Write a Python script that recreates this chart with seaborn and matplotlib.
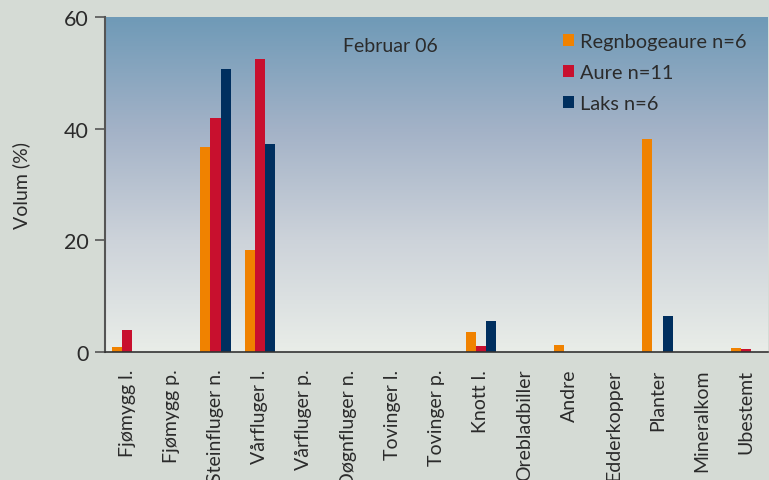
import numpy as np
import pandas as pd
import seaborn as sns
import matplotlib.pyplot as plt
from matplotlib.patches import Patch
from matplotlib.colors import LinearSegmentedColormap

# Data
categories = ['Fjømygg l.', 'Fjømygg p.', 'Steinfluger n.', 'Vårfluger l.', 'Vårfluger p.',
              'Døgnfluger n.', 'Tovinger l.', 'Tovinger p.', 'Knott l.', 'Orebladbiller',
              'Andre', 'Edderkopper', 'Planter', 'Mineralkom', 'Ubestemt']
regnbogeaure = [0.9, 0, 36.8, 18.3, 0, 0, 0, 0, 3.6, 0, 1.3, 0, 38.2, 0, 0.7]
aure = [3.9, 0, 41.9, 52.5, 0, 0, 0, 0, 1.1, 0, 0, 0, 0, 0, 0.5]
laks = [0, 0, 50.7, 37.3, 0, 0, 0, 0, 5.6, 0, 0, 0, 6.5, 0, 0]
series_names = ['Regnbogeaure n=6', 'Aure n=11', 'Laks n=6']
colors = ['#F08200', '#C8102E', '#002F5F']

df = pd.DataFrame({
    'Kategori': categories * 3,
    'Volum': regnbogeaure + aure + laks,
    'Art': [s for s in series_names for _ in categories],
})

sns.set_style('white')
plt.rcParams['font.family'] = ['Lato', 'DejaVu Sans']
text_color = '#2b2b2b'

fig = plt.figure(figsize=(7.69, 4.81), dpi=100, facecolor='#D5DBD5')
ax = fig.add_axes([105 / 769, 1 - 353 / 481, 663 / 769, 335 / 481])

# gradient background in the plot area
grad = np.linspace(0, 1, 256).reshape(-1, 1)
cmap = LinearSegmentedColormap.from_list('bg', ['#E9EDE8', '#CDD3DA', '#A3B2C7', '#6F9AB7'])
ax.imshow(grad, extent=(-0.5, 14.5, 0, 60), origin='lower', aspect='auto',
          cmap=cmap, zorder=0)

sns.barplot(data=df, x='Kategori', y='Volum', hue='Art', hue_order=series_names,
            order=categories, palette=colors, width=0.68, gap=0, saturation=1,
            edgecolor='none', linewidth=0, legend=False, ax=ax, zorder=2)

ax.set_xlim(-0.5, 14.5)
ax.set_ylim(0, 60)
ax.set_yticks([0, 20, 40, 60])
ax.set_xlabel('')
ax.set_ylabel('Volum (%)', fontsize=14, color=text_color, labelpad=24)

ax.set_xticks(range(len(categories)))
ax.set_xticklabels(categories, rotation=90, fontsize=14, color=text_color)
ax.set_xticks(np.arange(-0.5, 15, 1), minor=True)
ax.tick_params(axis='x', which='major', length=0, pad=12)
ax.tick_params(axis='x', which='minor', length=7, width=1.2, color='#333333', direction='out')
ax.tick_params(axis='y', length=7, width=1.2, color='#555555', labelsize=15.5,
               labelcolor=text_color, pad=5, left=True)

for side in ['top', 'right']:
    ax.spines[side].set_visible(False)
ax.spines['left'].set_color('#555555')
ax.spines['left'].set_linewidth(1.5)
ax.spines['bottom'].set_color('#333333')
ax.spines['bottom'].set_linewidth(1.2)

ax.text((390 - 105) / 663, (353 - 47) / 335, 'Februar 06', transform=ax.transAxes,
        fontsize=14, color=text_color, ha='center', va='center')

handles = [Patch(facecolor=c, edgecolor='none') for c in colors]
ax.legend(handles, series_names, loc='upper left', bbox_to_anchor=((545 - 105) / 663, 1.005),
          frameon=False, fontsize=14.4, handlelength=0.55, handleheight=0.55,
          handletextpad=0.3, labelspacing=0.7, labelcolor=text_color)

fig.savefig('out.png', dpi=100, facecolor=fig.get_facecolor())
